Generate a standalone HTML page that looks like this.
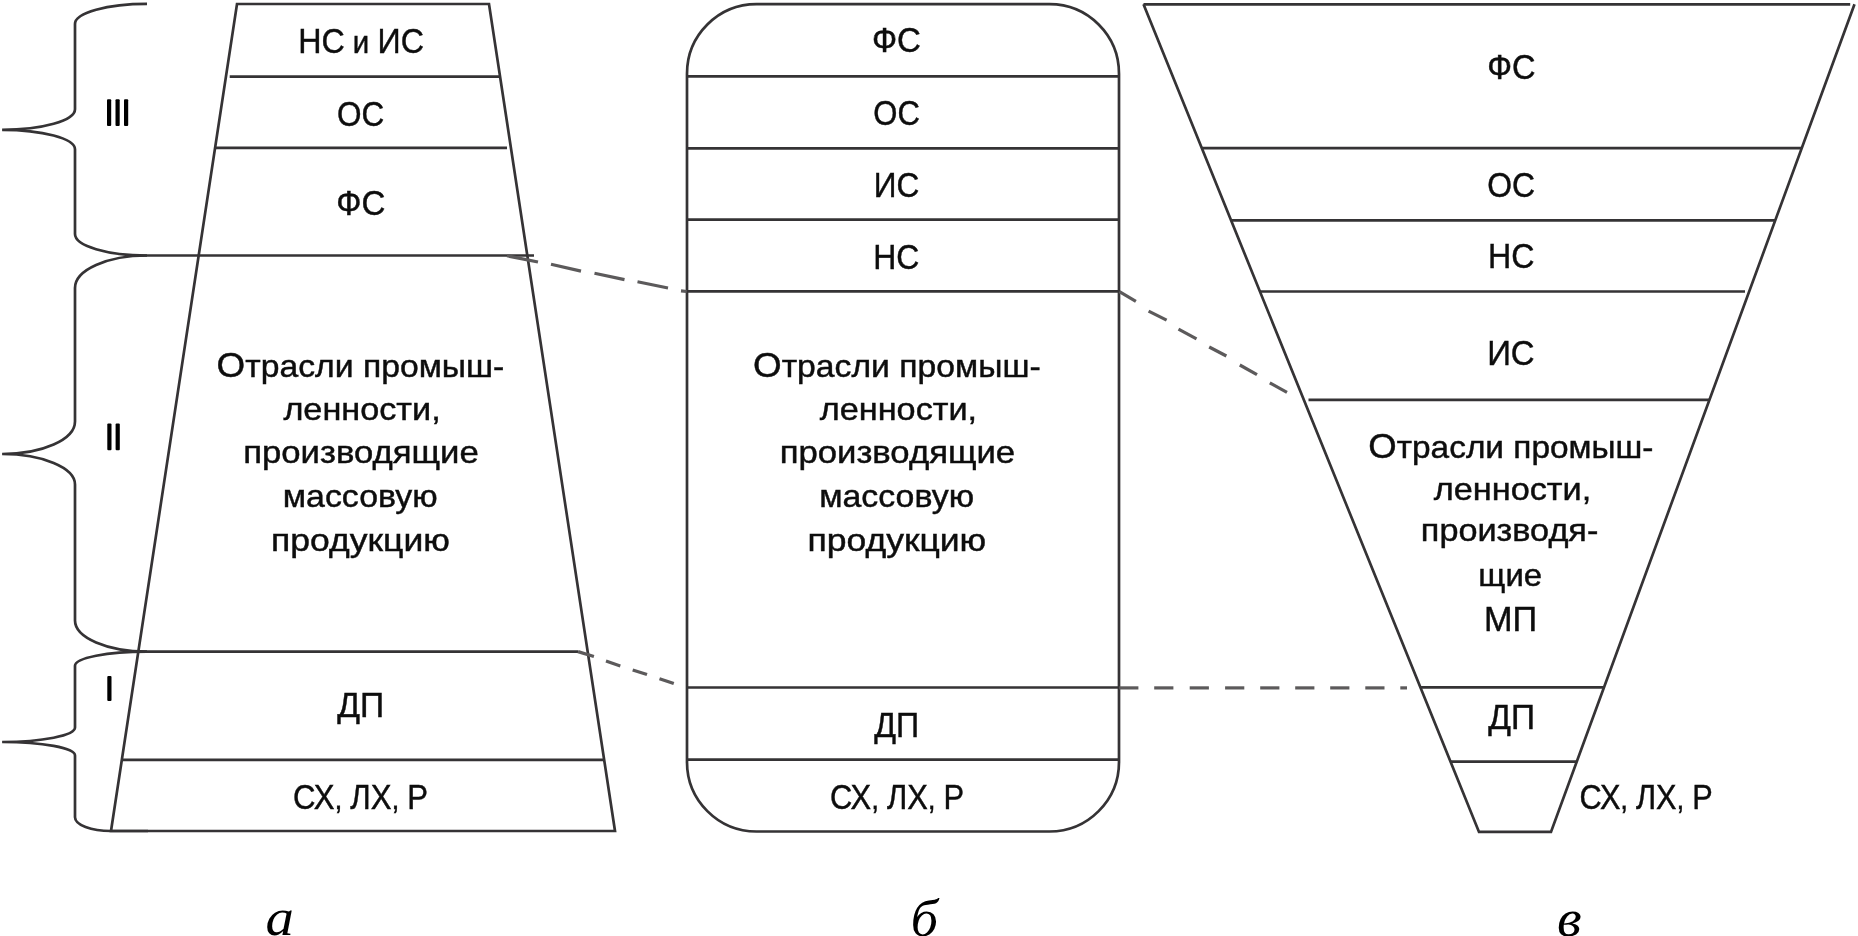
<!DOCTYPE html>
<html><head><meta charset="utf-8"><title>diagram</title>
<style>
html,body{margin:0;padding:0;background:#fff;width:1858px;height:936px;overflow:hidden}
svg{display:block;will-change:transform}
.s{fill:none;stroke:#353335;stroke-width:2.7;stroke-linejoin:miter}
line{stroke:#353335;stroke-width:2.7}
.d line{stroke:#5c5a5b;stroke-width:3.2}
.t{font-family:"Liberation Sans",sans-serif;font-size:32.0px;fill:#0d0d0d;stroke:#0d0d0d;stroke-width:0.45px}
.it{font-family:"Liberation Serif",serif;font-style:italic;font-size:52.0px;fill:#000}
</style></head><body>
<svg width="1858" height="936" viewBox="0 0 1858 936">
<path d="M237 4 L489 4 L615 831 L111 831 Z" class="s"/>
<line x1="229.7" y1="76.6" x2="500" y2="76.6" />
<line x1="214.2" y1="147.8" x2="507" y2="147.8" />
<line x1="147" y1="255.5" x2="534" y2="255.5" />
<line x1="147" y1="651.6" x2="578" y2="651.6" />
<line x1="122" y1="759.8" x2="604" y2="759.8" />
<path d="M147.0 3.9 A72.0 20.1 0 0 0 75.0 24.0 L75.0 109.30000000000001 A72.9 20.5 0 0 1 2.1 129.8 A72.9 19.5 0 0 1 75.0 149.3 L75.0 234.0 A72.0 21.5 0 0 0 147.0 255.5" class="s"/>
<path d="M147.0 255.5 A72.0 32.4 0 0 0 75.0 287.9 L75.0 421.4 A72.9 32.6 0 0 1 2.1 454.0 A72.9 30.4 0 0 1 75.0 484.4 L75.0 620.6 A72.0 31.0 0 0 0 147.0 651.6" class="s"/>
<path d="M147.0 651.6 A72.0 14.2 0 0 0 75.0 665.8000000000001 L75.0 727.6 A72.9 14.4 0 0 1 2.1 742.0 A72.9 13.4 0 0 1 75.0 755.4 L75.0 817.2 A36.0 13.8 0 0 0 111.0 831.0 L148.0 831.0" class="s"/>
<g fill="#000">
<rect x="107.0" y="99.3" width="4.2" height="26.6" rx="1"/>
<rect x="115.5" y="99.3" width="4.2" height="26.6" rx="1"/>
<rect x="124.0" y="99.3" width="4.2" height="26.6" rx="1"/>
<rect x="107.3" y="423.4" width="4.2" height="26.8" rx="1"/>
<rect x="115.6" y="423.4" width="4.2" height="26.8" rx="1"/>
<rect x="107.3" y="676.0" width="4.2" height="25.0" rx="1"/>
</g>
<rect x="687" y="4.2" width="432" height="827.3" rx="69.5" ry="69.5" class="s"/>
<line x1="687" y1="76.4" x2="1119" y2="76.4" />
<line x1="687" y1="148.3" x2="1119" y2="148.3" />
<line x1="687" y1="219.6" x2="1119" y2="219.6" />
<line x1="687" y1="291.3" x2="1119" y2="291.3" />
<line x1="687" y1="687.5" x2="1119" y2="687.5" />
<line x1="687" y1="759.6" x2="1119" y2="759.6" />
<path d="M1143.5 4.3 L1479 831.9 L1551 831.9 L1854.5 4.3" class="s"/>
<line x1="1143.5" y1="4.3" x2="1850.2" y2="4.3" />
<line x1="1201.8" y1="148.2" x2="1801.7" y2="148.2" />
<line x1="1231.1" y1="220.3" x2="1775.3" y2="220.3" />
<line x1="1259.9" y1="291.5" x2="1745.0" y2="291.5" />
<line x1="1308.5" y1="399.9" x2="1709.4" y2="399.9" />
<line x1="1420.4" y1="687.4" x2="1604.0" y2="687.4" />
<line x1="1450.5" y1="761.6" x2="1576.8" y2="761.6" />
<g class="d">
<line x1="507" y1="255.8" x2="538" y2="262.0" />
<line x1="551" y1="264.3" x2="581" y2="271.1" />
<line x1="594.5" y1="273.3" x2="624.5" y2="279.6" />
<line x1="637.5" y1="281.8" x2="668" y2="288.0" />
<line x1="681" y1="290.9" x2="686.7" y2="291.5" />
<line x1="1119.4" y1="291.7" x2="1135.9" y2="301.4" />
<line x1="1148.6" y1="311.1" x2="1166.6" y2="320.1" />
<line x1="1178.5" y1="329.1" x2="1196.5" y2="338.8" />
<line x1="1209.2" y1="347.0" x2="1226.4" y2="356.0" />
<line x1="1239.8" y1="365.0" x2="1257.0" y2="374.7" />
<line x1="1269.8" y1="382.9" x2="1287.0" y2="392.4" />
<line x1="578" y1="651.6" x2="593.9" y2="656.5" />
<line x1="606" y1="661.0" x2="620.3" y2="665.9" />
<line x1="632.7" y1="670.0" x2="647.0" y2="674.6" />
<line x1="659.5" y1="678.7" x2="673.8" y2="683.6" />
<line x1="1119.2" y1="687.9" x2="1138.4" y2="687.9" />
<line x1="1154.2" y1="687.9" x2="1173.4" y2="687.9" />
<line x1="1189.7" y1="687.9" x2="1208.9" y2="687.9" />
<line x1="1225.1" y1="687.9" x2="1244.3" y2="687.9" />
<line x1="1260.2" y1="687.9" x2="1279.4" y2="687.9" />
<line x1="1295.2" y1="687.9" x2="1314.4" y2="687.9" />
<line x1="1330.2" y1="687.9" x2="1349.4" y2="687.9" />
<line x1="1365.3" y1="687.9" x2="1384.5" y2="687.9" />
<line x1="1400.3" y1="687.9" x2="1407.0" y2="687.9" />
</g>
<text transform="translate(298.14 52.50) scale(0.9205 1)" class="t"><tspan font-size="35.0">НС</tspan> и <tspan font-size="35.0">ИС</tspan></text>
<text transform="translate(336.90 125.50) scale(0.9000 1)" class="t"><tspan font-size="35.0">ОС</tspan></text>
<text transform="translate(336.31 214.60) scale(0.9458 1)" class="t"><tspan font-size="35.0">ФС</tspan></text>
<text transform="translate(216.59 376.50) scale(1.0533 1)" class="t"><tspan font-size="35.0">О</tspan>трасли промыш-</text>
<text transform="translate(283.40 420.40) scale(1.0701 1)" class="t">ленности,</text>
<text transform="translate(243.23 463.20) scale(1.0846 1)" class="t">производящие</text>
<text transform="translate(282.78 506.60) scale(1.0594 1)" class="t">массовую</text>
<text transform="translate(271.08 550.70) scale(1.1101 1)" class="t">продукцию</text>
<text transform="translate(337.30 717.40) scale(0.9609 1)" class="t"><tspan font-size="35.0">ДП</tspan></text>
<text transform="translate(292.92 808.70) scale(0.8899 1)" class="t"><tspan font-size="35.0">СХ</tspan>, <tspan font-size="35.0">ЛХ</tspan>, <tspan font-size="35.0">Р</tspan></text>
<text transform="translate(872.01 52.40) scale(0.9438 1)" class="t"><tspan font-size="35.0">ФС</tspan></text>
<text transform="translate(873.22 125.00) scale(0.8878 1)" class="t"><tspan font-size="35.0">ОС</tspan></text>
<text transform="translate(873.79 196.90) scale(0.9022 1)" class="t"><tspan font-size="35.0">ИС</tspan></text>
<text transform="translate(873.26 268.60) scale(0.9130 1)" class="t"><tspan font-size="35.0">НС</tspan></text>
<text transform="translate(752.99 376.50) scale(1.0533 1)" class="t"><tspan font-size="35.0">О</tspan>трасли промыш-</text>
<text transform="translate(819.80 420.40) scale(1.0701 1)" class="t">ленности,</text>
<text transform="translate(779.63 463.20) scale(1.0846 1)" class="t">производящие</text>
<text transform="translate(819.18 506.60) scale(1.0594 1)" class="t">массовую</text>
<text transform="translate(807.48 550.70) scale(1.1101 1)" class="t">продукцию</text>
<text transform="translate(874.20 736.50) scale(0.9196 1)" class="t"><tspan font-size="35.0">ДП</tspan></text>
<text transform="translate(830.04 808.75) scale(0.8824 1)" class="t"><tspan font-size="35.0">СХ</tspan>, <tspan font-size="35.0">ЛХ</tspan>, <tspan font-size="35.0">Р</tspan></text>
<text transform="translate(1487.14 79.00) scale(0.9313 1)" class="t"><tspan font-size="35.0">ФС</tspan></text>
<text transform="translate(1487.18 196.90) scale(0.9122 1)" class="t"><tspan font-size="35.0">ОС</tspan></text>
<text transform="translate(1487.94 268.40) scale(0.9196 1)" class="t"><tspan font-size="35.0">НС</tspan></text>
<text transform="translate(1487.18 364.50) scale(0.9413 1)" class="t"><tspan font-size="35.0">ИС</tspan></text>
<text transform="translate(1368.31 457.70) scale(1.0441 1)" class="t"><tspan font-size="35.0">О</tspan>трасли промыш-</text>
<text transform="translate(1433.80 500.20) scale(1.0708 1)" class="t">ленности,</text>
<text transform="translate(1420.86 541.20) scale(1.0706 1)" class="t">производя-</text>
<text transform="translate(1478.35 586.30) scale(1.0271 1)" class="t">щие</text>
<text transform="translate(1484.06 631.00) scale(0.9796 1)" class="t"><tspan font-size="35.0">МП</tspan></text>
<text transform="translate(1488.30 728.80) scale(0.9565 1)" class="t"><tspan font-size="35.0">ДП</tspan></text>
<text transform="translate(1579.45 808.60) scale(0.8770 1)" class="t"><tspan font-size="35.0">СХ</tspan>, <tspan font-size="35.0">ЛХ</tspan>, <tspan font-size="35.0">Р</tspan></text>
<text transform="translate(265.52 935.00) scale(1.0909 1)" class="it">а</text>
<text transform="translate(910.81 935.50) scale(1.0440 1)" class="it">б</text>
<text transform="translate(1557.02 935.50) scale(1.0900 1)" class="it">в</text>
</svg>
</body></html>
